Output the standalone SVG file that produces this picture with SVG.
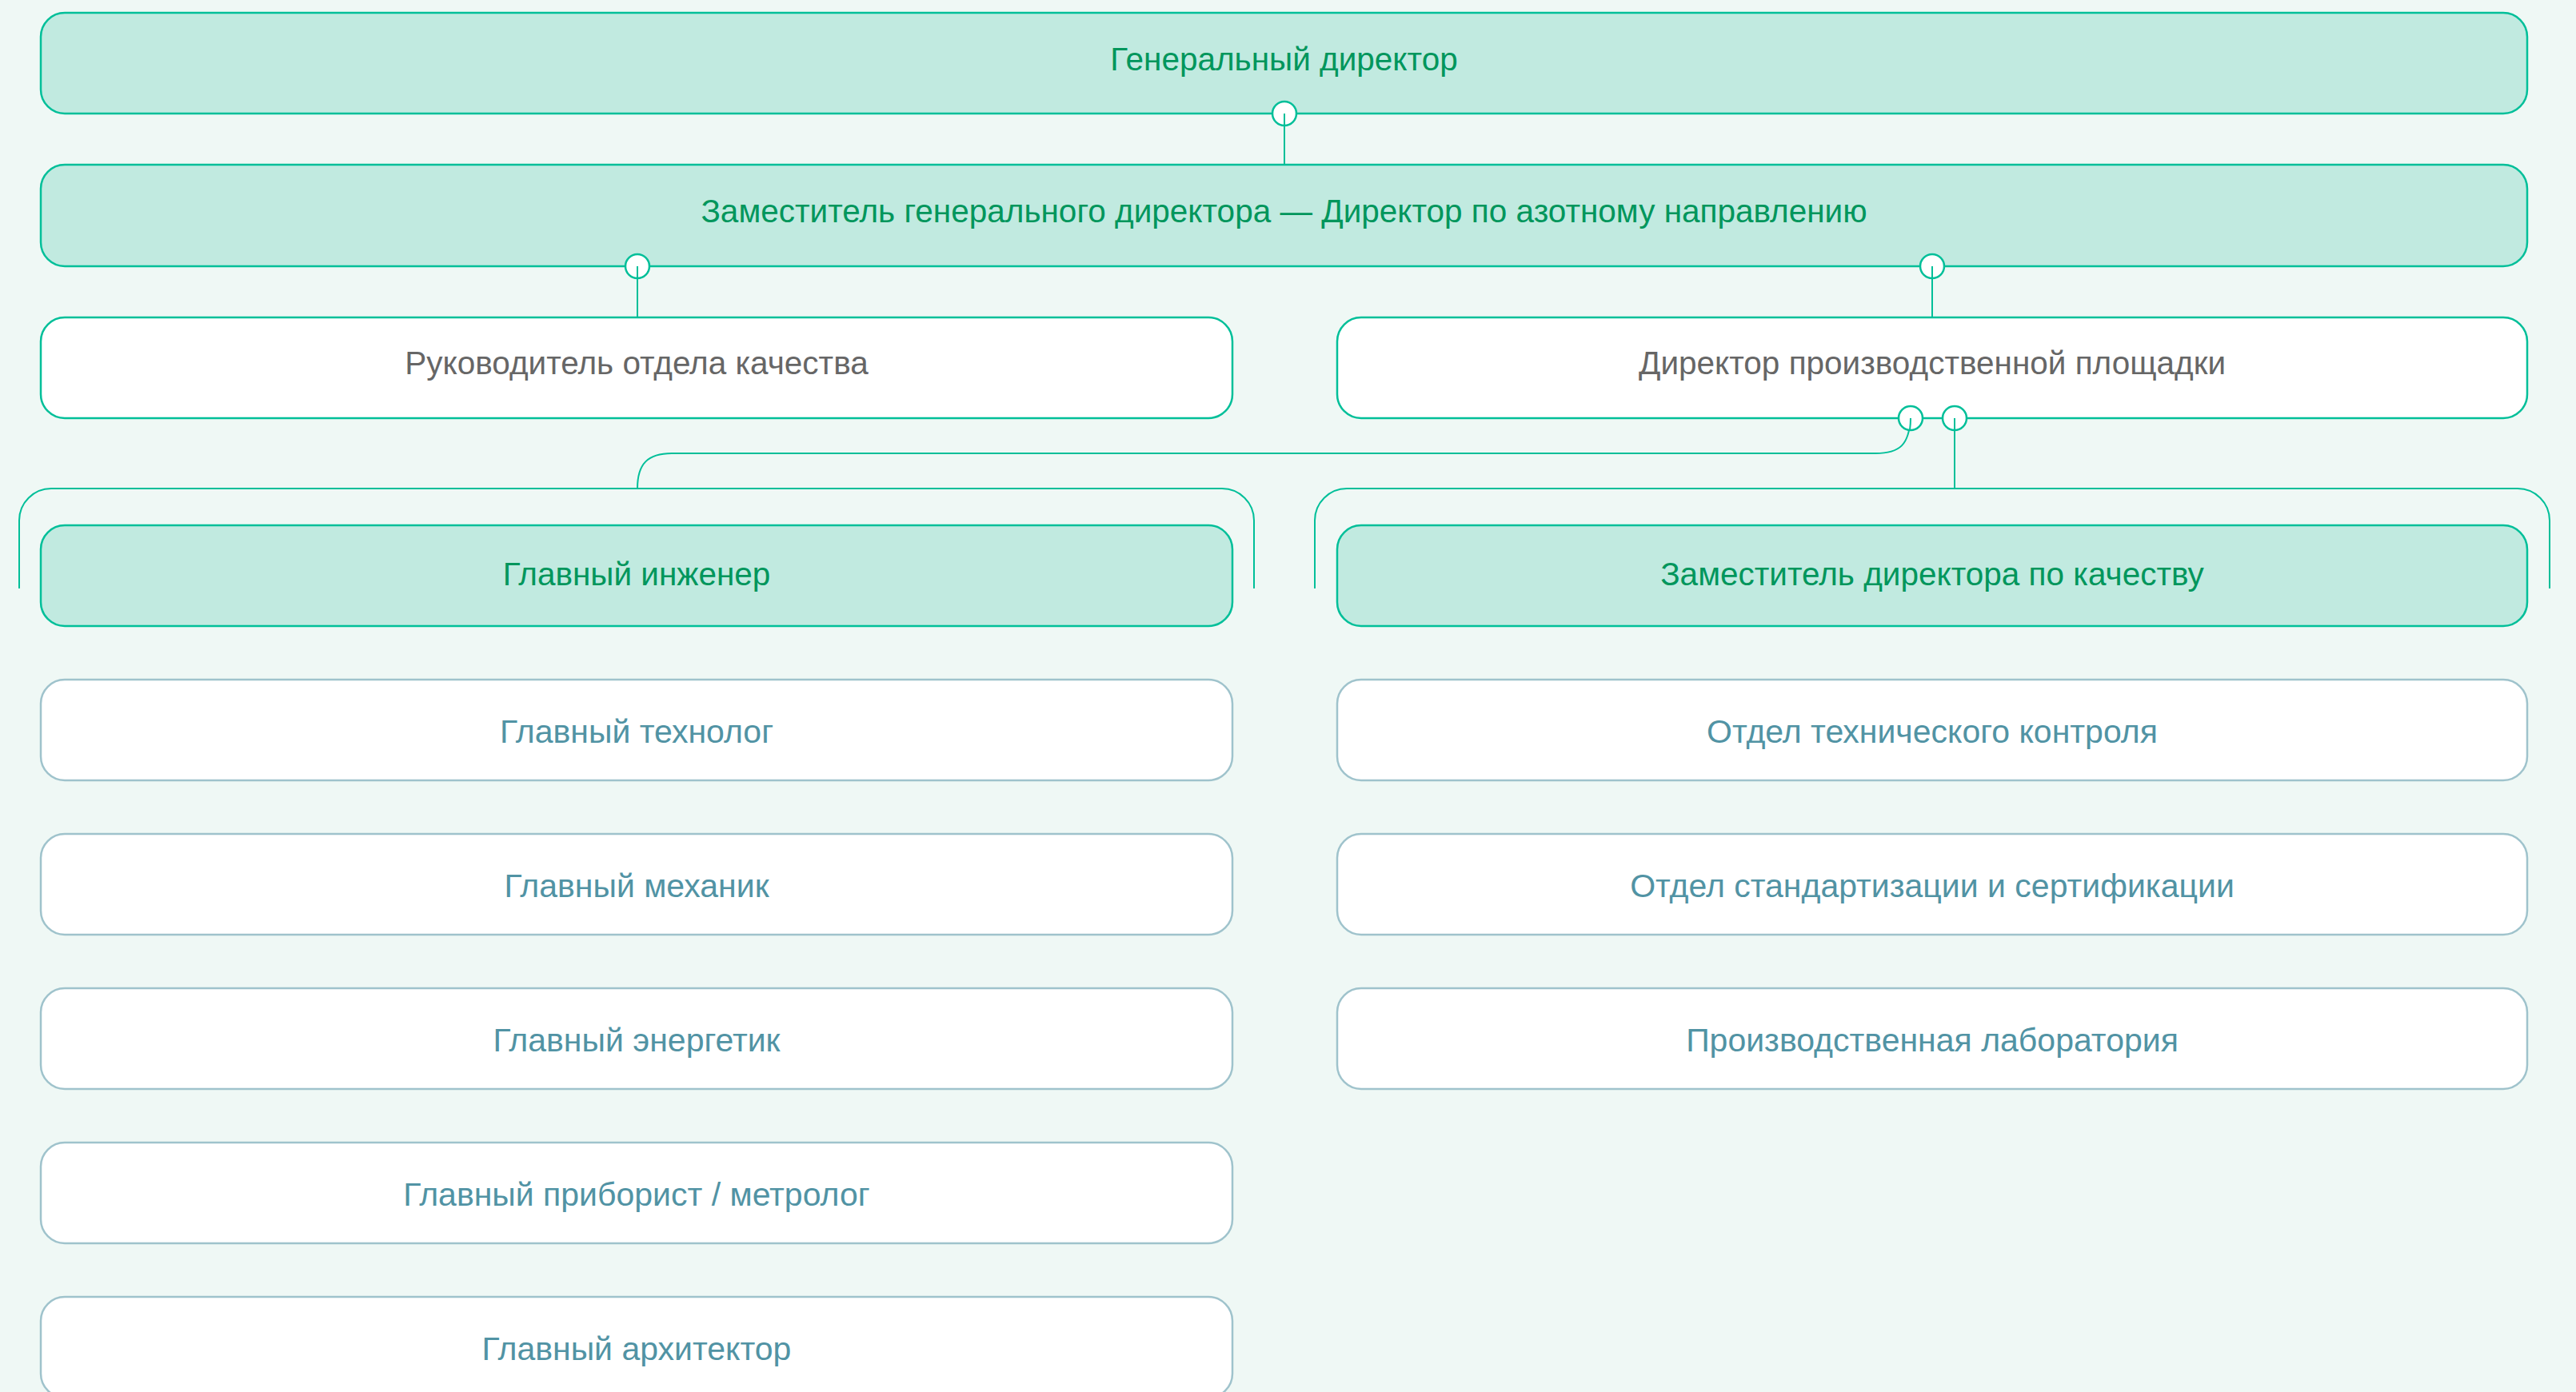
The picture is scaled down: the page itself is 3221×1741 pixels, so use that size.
<svg xmlns="http://www.w3.org/2000/svg" width="3221" height="1741" viewBox="0 0 3221 1741">
<style>
.bg{fill:#EFF8F5}
.hl{fill:#C1EAE0;stroke:#00BF99;stroke-width:2.5}
.wt{fill:#FFFFFF;stroke:#00BF99;stroke-width:2.5}
.lw{fill:#FFFFFF;stroke:#9FC3CC;stroke-width:2.5}
text{font-family:"Liberation Sans",Arial,sans-serif;font-size:40.5px;text-anchor:middle}
.thl{fill:#00965C}
.twt{fill:#666666}
.tlw{fill:#5193A4;font-size:41px}
.cn{fill:none;stroke:#00BF99;stroke-width:2}
.dot{fill:#FFFFFF;stroke:#00BF99;stroke-width:2.5}
</style>
<rect class="bg" x="0" y="0" width="3221" height="1741"/>

<g id="n-gendir"><rect class="hl" x="51" y="16" width="3109" height="126" rx="30"/><text class="thl" x="1605.5" y="88">Генеральный директор</text></g>
<g id="n-zamgen"><rect class="hl" x="51" y="206" width="3109" height="127" rx="30"/><text class="thl" x="1605.5" y="278">Заместитель генерального директора — Директор по азотному направлению</text></g>
<g id="n-rukkach"><rect class="wt" x="51" y="397" width="1490" height="126" rx="30"/><text class="twt" x="796" y="468">Руководитель отдела качества</text></g>
<g id="n-dirpl"><rect class="wt" x="1672" y="397" width="1488" height="126" rx="30"/><text class="twt" x="2416" y="468">Директор производственной площадки</text></g>

<g id="connectors">
<line class="cn" x1="1606" y1="142" x2="1606" y2="206"/>
<line class="cn" x1="797" y1="333" x2="797" y2="397"/>
<line class="cn" x1="2416" y1="333" x2="2416" y2="397"/>
<path class="cn" d="M2389,523 C2387,556 2376,567 2345,567 L840,567 C810,567 797,580 797,611"/>
<line class="cn" x1="2444" y1="523" x2="2444" y2="611"/>
<path class="cn" d="M24,736 L24,651 A40,40 0 0 1 64,611 L1528,611 A40,40 0 0 1 1568,651 L1568,736"/>
<path class="cn" d="M1644,736 L1644,651 A40,40 0 0 1 1684,611 L3148,611 A40,40 0 0 1 3188,651 L3188,736"/>
<circle class="dot" cx="1606" cy="142" r="15"/>
<circle class="dot" cx="797" cy="333" r="15"/>
<circle class="dot" cx="2416" cy="333" r="15"/>
<circle class="dot" cx="2389" cy="523" r="15"/>
<circle class="dot" cx="2444" cy="523" r="15"/>
<line class="cn" x1="1606" y1="142" x2="1606" y2="157"/>
<line class="cn" x1="797" y1="333" x2="797" y2="348"/>
<line class="cn" x1="2416" y1="333" x2="2416" y2="348"/>
<path class="cn" d="M2389,523 C2389,530 2388.5,534 2388,538"/>
<line class="cn" x1="2444" y1="523" x2="2444" y2="538"/>
</g>

<g id="n-glinzh"><rect class="hl" x="51" y="657" width="1490" height="126" rx="30"/><text class="thl" x="796" y="732">Главный инженер</text></g>
<g id="n-zamkach"><rect class="hl" x="1672" y="657" width="1488" height="126" rx="30"/><text class="thl" x="2416" y="732">Заместитель директора по качеству</text></g>

<g id="n-tehnolog"><rect class="lw" x="51" y="850" width="1490" height="126" rx="30"/><text class="tlw" x="796" y="929">Главный технолог</text></g>
<g id="n-mehanik"><rect class="lw" x="51" y="1043" width="1490" height="126" rx="30"/><text class="tlw" x="796" y="1122">Главный механик</text></g>
<g id="n-energetik"><rect class="lw" x="51" y="1236" width="1490" height="126" rx="30"/><text class="tlw" x="796" y="1315">Главный энергетик</text></g>
<g id="n-priborist"><rect class="lw" x="51" y="1429" width="1490" height="126" rx="30"/><text class="tlw" x="796" y="1508">Главный приборист / метролог</text></g>
<g id="n-arhitektor"><rect class="lw" x="51" y="1622" width="1490" height="126" rx="30"/><text class="tlw" x="796" y="1701">Главный архитектор</text></g>

<g id="n-otk"><rect class="lw" x="1672" y="850" width="1488" height="126" rx="30"/><text class="tlw" x="2416" y="929">Отдел технического контроля</text></g>
<g id="n-osis"><rect class="lw" x="1672" y="1043" width="1488" height="126" rx="30"/><text class="tlw" x="2416" y="1122">Отдел стандартизации и сертификации</text></g>
<g id="n-lab"><rect class="lw" x="1672" y="1236" width="1488" height="126" rx="30"/><text class="tlw" x="2416" y="1315">Производственная лаборатория</text></g>
</svg>
